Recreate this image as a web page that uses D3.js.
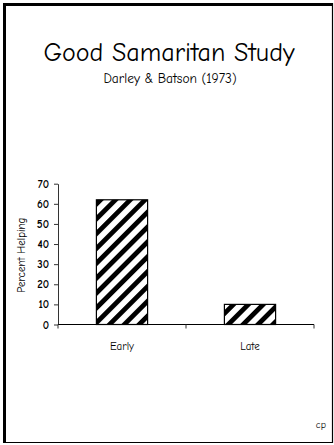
<!DOCTYPE html>
<html>
<head>
<meta charset="utf-8">
<script src="https://cdn.jsdelivr.net/npm/d3@7"></script>
<style>
  html, body { margin: 0; padding: 0; background: #fff; }
  svg { display: block; }
  text { font-family: "Comic Sans MS", "Comic Neue", "DejaVu Sans", sans-serif; fill: #000; }
</style>
</head>
<body>
<svg id="chart" width="334" height="445"></svg>
<script>
// Percent of participants who stopped to help, by hurry condition
const categories = ["Early", "Late"];
const percentHelping = [62, 10];
const yTicks = [0, 10, 20, 30, 40, 50, 60, 70];

const svg = d3.select("#chart");

// slide frame: heavier on the top and left edges
const frame = svg.append("g").attr("stroke", "#000").attr("fill", "none");
frame.append("line").attr("x1", 3).attr("x2", 333).attr("y1", 4.5).attr("y2", 4.5).attr("stroke-width", 3);
frame.append("line").attr("x1", 4.5).attr("x2", 4.5).attr("y1", 3).attr("y2", 443).attr("stroke-width", 3);
frame.append("line").attr("x1", 332.5).attr("x2", 332.5).attr("y1", 3).attr("y2", 443).attr("stroke-width", 1.2);
frame.append("line").attr("x1", 3).attr("x2", 333).attr("y1", 442.5).attr("y2", 442.5).attr("stroke-width", 1.2);

// titles
svg.append("text")
  .attr("x", 169).attr("y", 61)
  .attr("text-anchor", "middle")
  .attr("font-size", 26)
  .text("Good Samaritan Study");
svg.append("text")
  .attr("x", 170).attr("y", 83)
  .attr("text-anchor", "middle")
  .attr("font-size", 13.5)
  .text("Darley & Batson (1973)");

// diagonal hatch fill
const defs = svg.append("defs");
const pat = defs.append("pattern")
  .attr("id", "hatch")
  .attr("patternUnits", "userSpaceOnUse")
  .attr("width", 10.5).attr("height", 10.5)
  .attr("patternTransform", "rotate(45)");
pat.append("rect").attr("width", 10.5).attr("height", 10.5).attr("fill", "#fff");
pat.append("rect").attr("x", 0).attr("y", 0).attr("width", 4.8).attr("height", 10.5).attr("fill", "#000");

const plotLeft = 58, plotRight = 314, plotTop = 183.7, plotBottom = 324.5;

const x = d3.scaleBand().domain(categories).range([plotLeft, plotRight]).padding(0);
const y = d3.scaleLinear().domain([0, 70]).range([plotBottom, plotTop]);

// bars
const barW = x.bandwidth() * 0.4;
svg.append("g").selectAll("rect")
  .data(categories.map((c, i) => ({ c, v: percentHelping[i] })))
  .join("rect")
  .attr("x", d => x(d.c) + (x.bandwidth() - barW) / 2)
  .attr("y", d => y(d.v))
  .attr("width", barW)
  .attr("height", d => y(0) - y(d.v))
  .attr("fill", "url(#hatch)")
  .attr("stroke", "#000")
  .attr("stroke-width", 1.2);

// y axis
const yAxis = svg.append("g")
  .attr("transform", `translate(${plotLeft},0)`)
  .call(d3.axisLeft(y).tickValues(yTicks).tickSize(4).tickSizeOuter(0).tickPadding(5));
yAxis.select(".domain").attr("stroke", "#333");
yAxis.selectAll(".tick line").attr("stroke", "#333");
yAxis.selectAll(".tick text")
  .attr("font-size", 11).attr("font-weight", "bold")
  .attr("font-family", "\"Comic Sans MS\", \"DejaVu Sans\", sans-serif");

// x axis: tick marks at category boundaries
const xAxis = svg.append("g").attr("transform", `translate(0,${plotBottom})`);
xAxis.append("line")
  .attr("x1", plotLeft).attr("x2", plotRight)
  .attr("y1", 0).attr("y2", 0)
  .attr("stroke", "#000");
const bounds = [plotLeft].concat(categories.map(c => x(c) + x.bandwidth()));
xAxis.selectAll("line.tk")
  .data(bounds)
  .join("line")
  .attr("class", "tk")
  .attr("x1", d => d).attr("x2", d => d)
  .attr("y1", 0).attr("y2", 4)
  .attr("stroke", "#333");
xAxis.selectAll("text")
  .data(categories)
  .join("text")
  .attr("x", d => x(d) + x.bandwidth() / 2)
  .attr("y", 25)
  .attr("text-anchor", "middle")
  .attr("font-size", 11)
  .text(d => d);

// y axis title
svg.append("text")
  .attr("transform", `translate(25,${(plotTop + plotBottom) / 2 + 1}) rotate(-90)`)
  .attr("text-anchor", "middle")
  .attr("font-size", 11)
  .text("Percent Helping");

// footer initials
svg.append("text")
  .attr("x", 326).attr("y", 428)
  .attr("text-anchor", "end")
  .attr("font-size", 10)
  .text("cp");
</script>
</body>
</html>
